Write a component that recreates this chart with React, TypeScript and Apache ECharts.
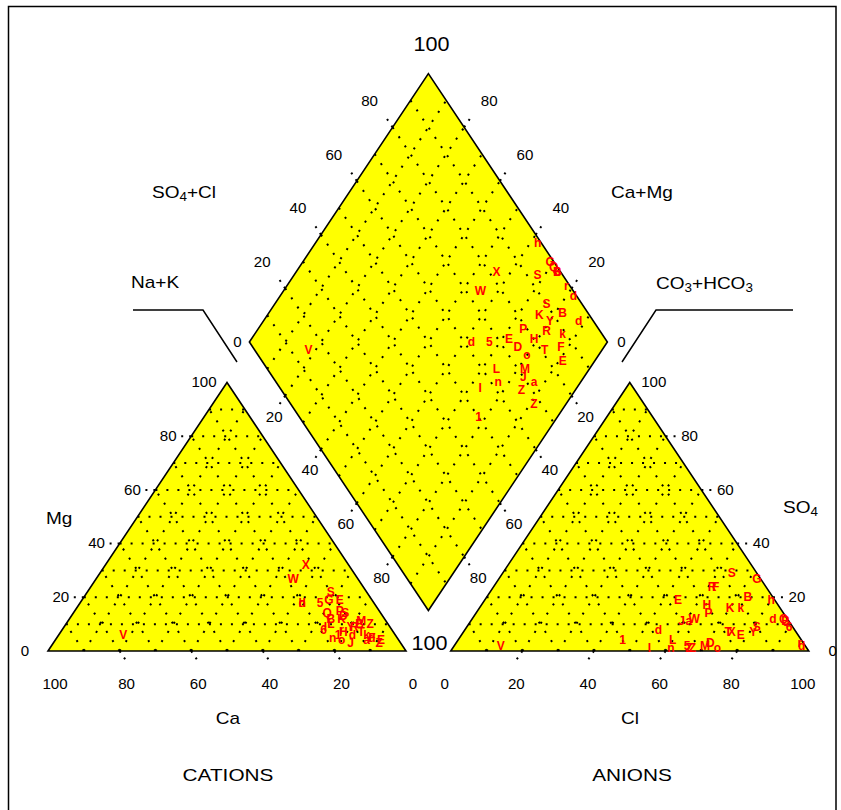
import React, { useEffect, useRef } from "react";
import * as echarts from "echarts";

// ---------- data (percent of meq/l) ----------
const sampleLabels = ["h","G","Q","B","6","X","S","W","r","d","S","K","B","d","Y","P","R","k","d","5","E","D","H","T","F","o","E","L","M","J","n","I","Z","a","Z","1","V"];
const caPct  = [20,12,15,15,19,12,10,18,14,12,10,12, 8, 7,11,11,10, 8,20,15, 9,11,14, 9, 7,16, 5,16, 7,14,18,18, 5, 9, 6,16,76];
const mgPct  = [18,19,14,12, 8,32,22,27, 8, 6,14,12,10, 5, 9,15, 9, 6,18,18,19,13, 7, 7, 5, 4, 4,10,11, 3, 5, 9,10, 4, 3, 6, 6];
const clPct  = [80,72,87,88,90,75,64,62,96,97,81,70,73,84,81,65,61,73,54,65,54,71,63,74,62,74,78,60,70,59,61,55,66,61,67,46,13];
const so4Pct = [19,27,12,11, 9, 7,29,12, 3, 2, 9,16,20,12, 7,14,24,16, 8, 2,19, 3,17, 7,24, 1, 6, 4, 2,11, 1, 1, 1,11, 1, 4, 2];

const tickValues = [0, 20, 40, 60, 80, 100];
const innerTicks = [20, 40, 60, 80];
const gridSteps = [10, 20, 30, 40, 50, 60, 70, 80, 90];

// ---------- layout ----------
const W = 841, H = 810;
const PX_U = 3.58, PX_V = 3.1;
const OX = 48, OY = 651;
const X_MIN = -OX / PX_U, X_MAX = (W - OX) / PX_U;
const Y_MIN = -(H - OY) / PX_V, Y_MAX = OY / PX_V;
const S60 = Math.sqrt(3) / 2;
const GAP = 12.5;
const AX0 = 100 + GAP;
const DB: [number, number] = [100 + GAP / 2, 13.06];
const DL: [number, number] = [DB[0] - 50, DB[1] + 100 * S60];
const FONT = "'Liberation Sans', Arial, sans-serif";

type P = [number, number];
const cation = (ca: number, mg: number): P => { const nak = 100 - ca - mg; return [nak + mg / 2, mg * S60]; };
const anion = (cl: number, so4: number): P => [AX0 + cl + so4 / 2, so4 * S60];
const diamond = (nak: number, s: number): P => {
  const n = nak / 100, t = s / 100;
  return [DL[0] + 50 * n + 50 * t, DL[1] - 100 * S60 * n + 100 * S60 * t];
};

const shapes: P[][] = [
  [cation(100, 0), cation(0, 100), cation(0, 0)],
  [anion(0, 0), anion(0, 100), anion(100, 0)],
  [diamond(0, 0), diamond(0, 100), diamond(100, 100), diamond(100, 0)],
];

const gridSegs: number[][] = [];
gridSteps.forEach((k) => {
  const pairs: [P, P][] = [
    [cation(100 - k, k), cation(0, k)],
    [cation(k, 0), cation(k, 100 - k)],
    [cation(100 - k, 0), cation(0, 100 - k)],
    [anion(0, k), anion(100 - k, k)],
    [anion(k, 0), anion(k, 100 - k)],
    [anion(100 - k, 0), anion(0, 100 - k)],
    [diamond(k, 0), diamond(k, 100)],
    [diamond(0, k), diamond(100, k)],
  ];
  pairs.forEach(([a, b]) => gridSegs.push([a[0], a[1], b[0], b[1]]));
});

const TL = 3.2;
const tickSegs: number[][] = [];
const addTick = (p: P, d: P) => tickSegs.push([p[0], p[1], p[0] + d[0] * TL, p[1] + d[1] * TL]);
innerTicks.forEach((k) => {
  addTick(cation(100 - k, k), [-1, 0]);
  addTick(cation(k, 0), [0.5, -S60]);
  addTick(anion(k, 0), [-0.5, -S60]);
  addTick(anion(100 - k, k), [1, 0]);
  addTick(diamond(0, k), [-0.5, S60]);
  addTick(diamond(100 - k, 100), [0.5, S60]);
  addTick(diamond(k, 0), [-0.5, -S60]);
  addTick(diamond(100, 100 - k), [0.5, -S60]);
});

type Lab = { p: P; dx: number; dy: number; text: string; size: number };
const labels: Lab[] = [];
tickValues.forEach((t) => {
  labels.push({ p: cation(100 - t, t), dx: -23, dy: 0, text: String(t), size: 14 });
  labels.push({ p: cation(t, 0), dx: 7, dy: 33, text: String(t), size: 14 });
  labels.push({ p: anion(t, 0), dx: -6, dy: 33, text: String(t), size: 14 });
  labels.push({ p: anion(100 - t, t), dx: 24, dy: 0, text: String(t), size: 14 });
});
[0, ...innerTicks].forEach((t) => {
  labels.push({ p: diamond(0, t), dx: t === 0 ? -12 : -23, dy: t === 0 ? 0 : -26, text: String(t), size: 14 });
  labels.push({ p: diamond(100 - t, 100), dx: t === 0 ? 14 : 25, dy: t === 0 ? 0 : -26, text: String(t), size: 14 });
});
innerTicks.forEach((t) => {
  labels.push({ p: diamond(t, 0), dx: -11, dy: 21, text: String(t), size: 14 });
  labels.push({ p: diamond(100, 100 - t), dx: 14, dy: 21, text: String(t), size: 14 });
});
labels.push({ p: diamond(0, 100), dx: 3, dy: -30, text: "100", size: 20 });
labels.push({ p: diamond(100, 0), dx: 1, dy: 32, text: "100", size: 20 });

const markerPts: P[] = [];
const markerText: string[] = [];
sampleLabels.forEach((lab, i) => {
  const nak = 100 - caPct[i] - mgPct[i];
  markerPts.push(cation(caPct[i], mgPct[i])); markerText.push(lab);
  markerPts.push(anion(clPct[i], so4Pct[i])); markerText.push(lab);
  markerPts.push(diamond(nak, clPct[i] + so4Pct[i])); markerText.push(lab);
});

const sub = (parts: [string, boolean][]) => parts.map(([t, s]) => `{${s ? "b" : "a"}|${t}}`).join("");
const titleRich = {
  a: { fontSize: 17, fontFamily: FONT, fill: "#000" },
  b: { fontSize: 12, fontFamily: FONT, fill: "#000", padding: [10, 0, 0, 0] },
};
const title = (x: number, y: number, text: string, align = "left", size = 17, sx = 1.12): any => ({
  type: "text", x, y, scaleX: sx,
  style: { text, rich: { ...titleRich, a: { ...titleRich.a, fontSize: size } }, align, verticalAlign: "middle", fontFamily: FONT, fontSize: size, fill: "#000" },
});

export default function App() {
  const ref = useRef<HTMLDivElement>(null);
  useEffect(() => {
    if (!ref.current) return;
    const chart = echarts.init(ref.current, undefined, { renderer: "svg" });
    const segRender = (segs: number[][], lw: number, dash: number[]) => (params: any, api: any) => {
      const s = segs[params.dataIndex];
      const a = api.coord([s[0], s[1]]), b = api.coord([s[2], s[3]]);
      return { type: "line", shape: { x1: a[0], y1: a[1], x2: b[0], y2: b[1] }, style: { stroke: "#000", lineWidth: lw, lineDash: dash } };
    };
    chart.setOption({
      animation: false,
      backgroundColor: "#fff",
      grid: { left: 0, right: 0, top: 0, bottom: 0, containLabel: false },
      xAxis: { type: "value", min: X_MIN, max: X_MAX, show: false },
      yAxis: { type: "value", min: Y_MIN, max: Y_MAX, show: false },
      series: [
        {
          type: "custom", z: 1, clip: false, silent: true,
          data: shapes.map((s) => s[0]), encode: { x: 0, y: 1 },
          renderItem: (params: any, api: any) => ({
            type: "polygon",
            shape: { points: shapes[params.dataIndex].map((p) => api.coord(p)) },
            style: { fill: "#ffff00", stroke: "none" },
          }),
        },
        {
          type: "custom", z: 2, clip: false, silent: true,
          data: gridSegs, encode: { x: [0, 2], y: [1, 3] },
          renderItem: segRender(gridSegs, 2, [2, 9]),
        },
        {
          type: "custom", z: 3, clip: false, silent: true,
          data: shapes.map((s) => s[0]), encode: { x: 0, y: 1 },
          renderItem: (params: any, api: any) => ({
            type: "polygon",
            shape: { points: shapes[params.dataIndex].map((p) => api.coord(p)) },
            style: { fill: "none", stroke: "#000", lineWidth: 1.6 },
          }),
        },
        {
          type: "custom", z: 3, clip: false, silent: true,
          data: tickSegs, encode: { x: [0, 2], y: [1, 3] },
          renderItem: segRender(tickSegs, 2, [2, 6]),
        },
        {
          type: "custom", z: 4, clip: false, silent: true,
          data: labels.map((l) => l.p), encode: { x: 0, y: 1 },
          renderItem: (params: any, api: any) => {
            const l = labels[params.dataIndex];
            const c = api.coord(l.p);
            return {
              type: "text", x: c[0] + l.dx, y: c[1] + l.dy, scaleX: 1.08,
              style: { text: l.text, fontSize: l.size, fontFamily: FONT, fill: "#000", align: "center", verticalAlign: "middle" },
            };
          },
        },
        {
          type: "custom", z: 5, clip: false, silent: true,
          data: markerPts, encode: { x: 0, y: 1 },
          renderItem: (params: any, api: any) => {
            const c = api.coord(markerPts[params.dataIndex]);
            return {
              type: "text", x: c[0], y: c[1],
              style: { text: markerText[params.dataIndex], fontSize: 12, fontWeight: "bold", fontFamily: FONT, fill: "#ff0000", align: "center", verticalAlign: "middle" },
            };
          },
        },
      ],
      graphic: [
        { type: "rect", shape: { x: 8.5, y: 6.5, width: 827.5, height: 830 }, style: { fill: "none", stroke: "#000", lineWidth: 1.5 }, silent: true },
        { type: "polyline", shape: { points: [[133, 310], [203, 310], [237, 362]] }, style: { stroke: "#000", lineWidth: 1.5, fill: "none" } },
        { type: "polyline", shape: { points: [[622, 362], [656, 310], [793, 310]] }, style: { stroke: "#000", lineWidth: 1.5, fill: "none" } },
        title(152, 192, sub([["SO", false], ["4", true], ["+Cl", false]])),
        title(611, 192, sub([["Ca+Mg", false]])),
        title(131, 282, sub([["Na+K", false]])),
        title(656, 283, sub([["CO", false], ["3", true], ["+HCO", false], ["3", true]])),
        title(46, 518, sub([["Mg", false]])),
        title(783, 507, sub([["SO", false], ["4", true]])),
        title(228, 718, sub([["Ca", false]]), "center"),
        title(630, 718, sub([["Cl", false]]), "center"),
        title(228, 775, sub([["CATIONS", false]]), "center", 16, 1.3),
        title(632, 775, sub([["ANIONS", false]]), "center", 16, 1.3),
      ],
    });
    return () => chart.dispose();
  }, []);
  return <div ref={ref} style={{ position: "fixed", left: 0, top: 0, width: W, height: H }} />;
}
